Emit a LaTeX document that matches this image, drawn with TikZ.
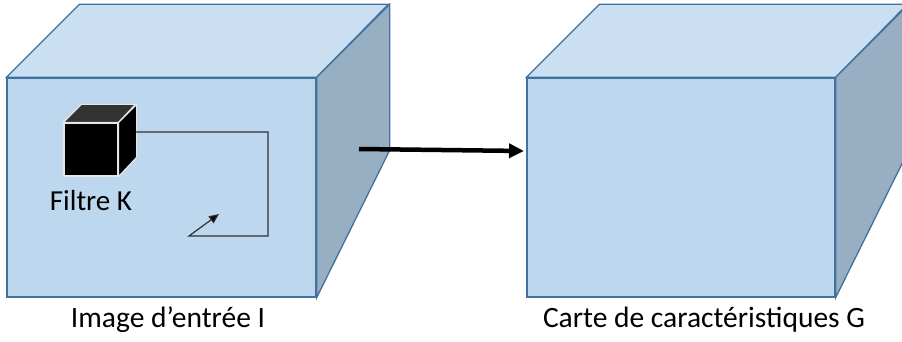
\documentclass[tikz,border=0pt]{standalone}
\usepackage{fontspec}
\setmainfont{Carlito}
\usetikzlibrary{arrows.meta}
\definecolor{frontblue}{HTML}{BDD7EE}
\definecolor{topblue}{HTML}{CADFF2}
\definecolor{sideblue}{HTML}{98AEC3}
\definecolor{edgeblue}{HTML}{41719C}
\definecolor{kedge}{HTML}{E6E6E6}
\definecolor{ktop}{HTML}{333333}
\definecolor{pathgray}{HTML}{303030}
\begin{document}
\begin{tikzpicture}[x=1pt,y=-1pt,
  face/.style={draw=edgeblue, line width=1.3pt, line join=miter},
  frontface/.style={face, fill=frontblue, rectangle, inner sep=0pt,
    minimum height=219pt},
  kface/.style={draw=kedge, line width=1.2pt, line join=miter},
  label/.style={anchor=base, inner sep=0pt, font=\fontsize{29.5}{35}\selectfont},
  movepath/.style={draw=pathgray, line width=1.2pt,
    -{Triangle[length=10pt,width=8.5pt,fill=black]}},
  mainarrow/.style={line width=4.5pt, -{Triangle[length=15pt,width=14pt]}}
]
\useasboundingbox (0,0) rectangle (902,342);
\clip (0,0) rectangle (902,342);

% input volume
\node[frontface, minimum width=309pt] (L) at (161.5,187.5) {};
\fill[topblue, face] (L.north west) -- ++(73,-73) -- ++(309,0)
  -- (L.north east) -- cycle;
\fill[sideblue, face] (L.north east) -- ++(73,-73) -- ++(0,146)
  -- (L.south east) -- cycle;

% output volume
\node[frontface, minimum width=308pt] (R) at (681,187.5) {};
\fill[topblue, face] (R.north west) -- ++(73,-73) -- ++(308,0)
  -- (R.north east) -- cycle;
\fill[sideblue, face] (R.north east) -- ++(73,-73) -- ++(0,146)
  -- (R.south east) -- cycle;

% filter cube
\node[kface, fill=black, rectangle, inner sep=0pt,
  minimum width=54pt, minimum height=53pt] (K) at (91,149.5) {};
\fill[ktop, kface] (K.north west) -- ++(18,-18) -- ++(54,0)
  -- (K.north east) -- cycle;
\fill[black, kface] (K.north east) -- ++(18,-18) -- ++(0,53)
  -- (K.south east) -- cycle;

% sliding path of the filter
\coordinate (kstart) at (136,132);
\coordinate (kc1) at (268,132);
\coordinate (kc2) at (268,236);
\coordinate (kc3) at (189,236);
\coordinate (kend) at (219,214);
\draw[movepath] (kstart) -- (kc1) -- (kc2) -- (kc3) -- (kend);

\node[label, font=\fontsize{29}{35}\selectfont] (kname) at (91,210) {Filtre K};

% convolution arrow
\coordinate (src) at (359,149);
\coordinate (dst) at (524,151);
\draw[mainarrow] (src) -- (dst);

% captions
\node[label] (lcap) at (168,327) {Image d’entrée I};
\node[label] (rcap) at (704,327) {Carte de caractéristiques G};
\end{tikzpicture}
\end{document}
